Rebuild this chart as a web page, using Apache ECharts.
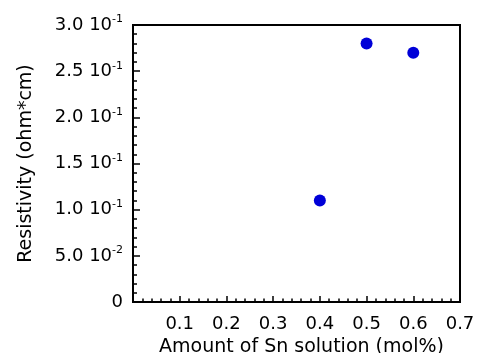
<!DOCTYPE html>
<html>
<head>
<meta charset="utf-8">
<script src="https://cdn.jsdelivr.net/npm/echarts@6/dist/echarts.min.js"></script>
<style>html,body{margin:0;padding:0;background:#fff}#c{width:481px;height:353px}</style>
</head>
<body>
<div id="c"></div>
<script>
var xValues = [0.4, 0.5, 0.6];
var resistivity = [0.11, 0.28, 0.27];
var xTickLabels = ['', '0.1', '0.2', '0.3', '0.4', '0.5', '0.6', '0.7'];
var yTickMantissa = ['0', '5.0 10', '1.0 10', '1.5 10', '2.0 10', '2.5 10', '3.0 10'];
var yTickExponent = ['', '-2', '-1', '-1', '-1', '-1', '-1'];
var xAxisTitle = 'Amount of Sn solution (mol%)';
var yAxisTitle = 'Resistivity (ohm*cm)';

var FONT = 'DejaVu Sans';
var chart = echarts.init(document.getElementById('c'), null, {renderer: 'canvas'});
chart.setOption({
  animation: false,
  backgroundColor: '#fff',
  grid: {left: 133, right: 21, top: 25, bottom: 51, containLabel: false, outerBoundsMode: 'none',
         show: true, borderColor: '#000', borderWidth: 2, backgroundColor: 'transparent'},
  xAxis: {
    type: 'value', min: 0, max: 0.7, interval: 0.1,
    name: xAxisTitle, nameLocation: 'middle', nameGap: 30,
    nameTextStyle: {fontFamily: FONT, fontSize: 19, color: '#000', padding: [0, 0, 0, 10]},
    axisLine: {show: true, lineStyle: {color: '#000', width: 2}},
    axisTick: {show: true, inside: true, length: 6, lineStyle: {color: '#000', width: 1.5}},
    minorTick: {show: true, splitNumber: 5, length: 3.5, lineStyle: {color: '#000', width: 1.5}},
    splitLine: {show: false},
    axisLabel: {
      margin: 13, fontFamily: FONT, fontSize: 18, color: '#000',
      formatter: function (v) { return xTickLabels[Math.round(v * 10)]; }
    }
  },
  yAxis: {
    type: 'value', min: 0, max: 0.3, interval: 0.05,
    name: yAxisTitle, nameLocation: 'middle', nameGap: 97, nameRotate: 90,
    nameTextStyle: {fontFamily: FONT, fontSize: 19, color: '#000'},
    axisLine: {show: true, lineStyle: {color: '#000', width: 2}},
    axisTick: {show: true, inside: true, length: 7, lineStyle: {color: '#000', width: 1.5}},
    minorTick: {show: true, splitNumber: 5, length: 4, lineStyle: {color: '#000', width: 1.5}},
    splitLine: {show: false},
    axisLabel: {
      margin: 10, color: '#000',
      formatter: function (v) {
        var i = Math.round(v / 0.05);
        var e = yTickExponent[i];
        return '{m|' + yTickMantissa[i] + '}' + (e ? '{e|' + e + '}' : '');
      },
      rich: {
        m: {fontFamily: FONT, fontSize: 18, color: '#000', lineHeight: 22},
        e: {fontFamily: FONT, fontSize: 11, color: '#000', verticalAlign: 'top', lineHeight: 22, padding: [0, 0, 12, 0]}
      }
    }
  },
  series: [{
    type: 'scatter',
    data: xValues.map(function (x, i) { return [x, resistivity[i]]; }),
    symbol: 'circle', symbolSize: 12,
    itemStyle: {color: '#0000d8', opacity: 1}
  }]
});
</script>
</body>
</html>
